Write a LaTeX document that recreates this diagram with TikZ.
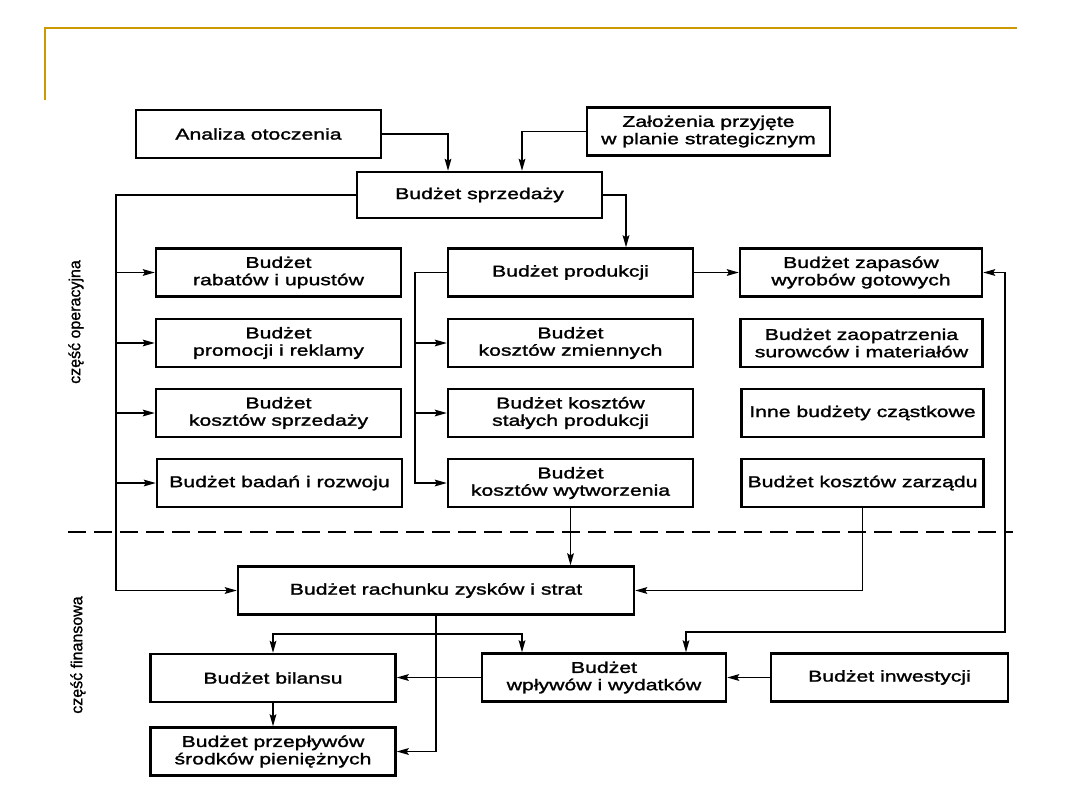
\documentclass[tikz,border=0pt]{standalone}
\usepackage{fontspec}
\setmainfont{Liberation Sans}[FakeStretch=1.36,FakeBold=1.6]
\newfontfamily\labfont{Liberation Sans}[FakeBold=1.2]
\usetikzlibrary{arrows.meta,calc}
\definecolor{gold}{RGB}{204,153,0}
\begin{document}
\begin{tikzpicture}[x=0.75pt,y=-0.75pt,
  box/.style={draw, line width=1.8pt, inner sep=0pt, align=center,
    minimum width=183.75pt, minimum height=36pt,
    font=\fontsize{11.7}{13}\selectfont},
  conn/.style={line width=1.2pt},
  tip/.tip={Stealth[length=9pt,width=5pt,inset=1.5pt]},
  arr/.style={conn, -tip},
  arrs/.style={conn, tip-tip},
  sep/.style={line width=1.5pt, dash pattern=on 13.5pt off 6pt},
  frame/.style={draw=gold, line width=1.5pt},
  side/.style={rotate=90, font=\labfont\fontsize{12}{13}\selectfont}]
\useasboundingbox (0,0) rectangle (1080,810);
% frame
\draw[frame] (45,100) -- (45,28) -- (1017,28);
% nodes
\node[box] (ana) at (258.5,134) {Analiza otoczenia};
\node[box, minimum width=182.25pt] (zal) at (708.5,131.5) {Założenia przyjęte\\w planie strategicznym};
\node[box, minimum height=34.5pt] (spr) at (479.5,195) {Budżet sprzedaży};
\node[box] (rab) at (278.5,272.5) {Budżet\\rabatów i upustów};
\node[box] (pro) at (278.5,343) {Budżet\\promocji i reklamy};
\node[box] (kss) at (278.5,413) {Budżet\\kosztów sprzedaży};
\node[box] (bad) at (279.5,483) {Budżet badań i rozwoju};
\node[box] (prod) at (570.5,272.5) {Budżet produkcji};
\node[box] (zmi) at (570.5,343) {Budżet\\kosztów zmiennych};
\node[box] (sta) at (570.5,413) {Budżet kosztów\\stałych produkcji};
\node[box] (wyt) at (570.5,483) {Budżet\\kosztów wytworzenia};
\node[box, minimum width=181.5pt] (zap) at (861,272.5) {Budżet zapasów\\wyrobów gotowych};
\node[box, minimum width=181.5pt] (zao) at (861.5,343) {Budżet zaopatrzenia\\surowców i materiałów};
\node[box, minimum width=181.5pt] (inne) at (862.5,413) {Inne budżety cząstkowe};
\node[box, minimum width=181.5pt] (zarz) at (862.5,483) {Budżet kosztów zarządu};
\node[box, minimum width=297pt] (rach) at (436,590.5) {Budżet rachunku zysków i strat};
\node[box] (bil) at (273,678) {Budżet bilansu};
\node[box] (prz) at (273,751.5) {Budżet przepływów\\środków pieniężnych};
\node[box, minimum width=183pt] (wpl) at (604,677.5) {Budżet\\wpływów i wydatków};
\node[box, minimum width=177.75pt] (inw) at (889.5,677.5) {Budżet inwestycji};
% side labels
\node[side] (lop) at (76,322) {część operacyjna};
\node[side] (lfin) at (78,655) {część finansowa};
% separator
\draw[sep] (68,532) -- (1013,532);
% lanes
\coordinate (lA) at (448,0);
\coordinate (lB) at (522,0);
\coordinate (lC) at (626,0);
\coordinate (lL) at (116,0);
\coordinate (lM) at (415,0);
\coordinate (rk) at (1005,632);
\coordinate (wk) at (686,632);
\coordinate (bk) at (436,634);
\coordinate (bw) at (522,634);
% connectors
\draw[arr] (ana.east) -| (spr.north -| lA);
\draw[arr] (zal.west) -| (spr.north -| lB);
\draw[arr] (spr.west) -| (lL |- rach.west) -- (rach.west);
\foreach \n in {rab,pro,kss,bad} \draw[arr] (lL |- \n.west) -- (\n.west);
\draw[arr] (spr.east) -| (prod.north -| lC);
\draw[arr] (prod.west) -| (lM |- wyt.west) -- (wyt.west);
\foreach \n in {zmi,sta} \draw[arr] (lM |- \n.west) -- (\n.west);
\draw[arr] (prod.east) -- (zap.west);
\draw[arrs] (zap.east) -| (rk) -| (wpl.north -| wk);
\draw[arr] (wyt.south) -- (wyt.south |- rach.north);
\draw[arr] (zarz.south) |- (rach.east);
\draw[arr] (rach.south) |- (prz.east);
\draw[arr] (bk) -| (bil.north);
\draw[arr] (bk) -- (bw) -- (wpl.north -| bw);
\draw[arr] (bil.south) -- (prz.north);
\draw[arr] (wpl.west) -- (wpl.west -| bil.east);
\draw[arr] (inw.west) -- (wpl.east);
\end{tikzpicture}
\end{document}
